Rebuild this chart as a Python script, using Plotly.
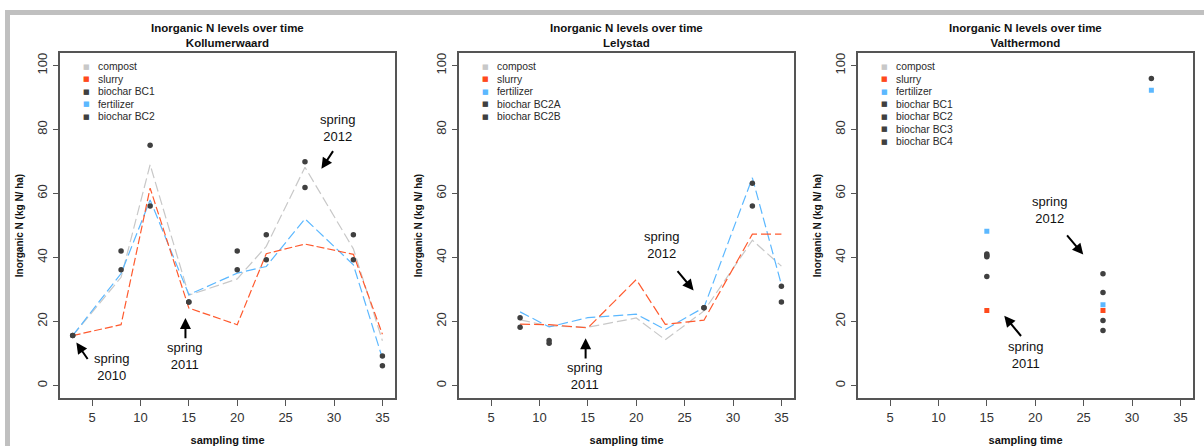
import plotly.graph_objects as go

# ---------------- data ----------------
sites = ["Kollumerwaard", "Lelystad", "Valthermond"]

times_k = [3, 8, 11, 15, 20, 23, 27, 32, 35]
k_compost = [15.6, 33.8, 69.0, 28.2, 33.3, 43.5, 68.2, 42.7, 14.0]
k_slurry = [15.6, 19.0, 61.7, 24.2, 19.0, 41.2, 44.2, 41.0, 16.0]
k_fertilizer = [15.6, 35.0, 58.0, 28.4, 35.1, 37.2, 52.1, 37.7, 8.5]
k_bc1 = [15.6, 42.0, 75.1, 26.1, 42.0, 47.1, 69.9, 47.1, 9.2]
k_bc2 = [15.6, 36.2, 56.1, 26.1, 36.2, 39.3, 61.9, 39.3, 6.2]

times_l = [8, 11, 15, 20, 23, 27, 32, 35]
l_compost = [20.5, 18.6, 18.2, 21.1, 14.3, 23.3, 45.4, 37.3]
l_slurry = [19.2, 19.0, 18.0, 33.1, 19.1, 20.4, 47.3, 47.3]
l_fertilizer = [23.0, 18.3, 21.2, 22.3, 17.5, 24.4, 64.9, 31.5]
l_bc2a = [21.2, 14.1, None, None, None, 24.3, 63.2, 31.0]
l_bc2b = [18.2, 13.2, None, None, None, 24.3, 56.1, 26.1]

times_v = [15, 27, 32]
v_compost = [None, None, None]
v_slurry = [23.4, 23.4, None]
v_fertilizer = [48.2, 25.2, 92.3]
v_bc1 = [41.1, 34.9, 95.9]
v_bc2 = [40.6, 29.1, None]
v_bc3 = [40.2, 20.3, None]
v_bc4 = [34.1, 17.2, None]

legend_k = ["compost", "slurry", "biochar BC1", "fertilizer", "biochar BC2"]
legend_l = ["compost", "slurry", "fertilizer", "biochar BC2A", "biochar BC2B"]
legend_v = ["compost", "slurry", "fertilizer", "biochar BC1", "biochar BC2",
            "biochar BC3", "biochar BC4"]

x_ticks = [5, 10, 15, 20, 25, 30, 35]
y_ticks = [0, 20, 40, 60, 80, 100]

# ---------------- styles ----------------
C_COMPOST = "#c8c8c8"
C_SLURRY = "#ff4a1c"
C_SLURRY_LINE = "#ff5a2e"
C_FERT = "#5cb8ff"
C_BC = "#404040"
colors = {"compost": C_COMPOST, "slurry": C_SLURRY, "fertilizer": C_FERT}
FONT = "Liberation Sans, Arial, sans-serif"

W, H = 1204, 446
box_left_px = [60.3, 459.3, 858.3]
box_w_px = 334.5
box_top_px, box_bot_px = 52.7, 398.3
XR = [1.72, 36.28]
YR = [-4, 104]

fig = go.Figure()


def add_line(ax, x, y, color, dash):
    fig.add_trace(go.Scatter(x=x, y=y, mode="lines", xaxis="x" + ax, yaxis="y" + ax,
                             line=dict(color=color, width=1.2, dash=dash),
                             showlegend=False, hoverinfo="skip"))


def add_pts(ax, x, y, color, symbol="circle", size=5.5):
    fig.add_trace(go.Scatter(x=x, y=y, mode="markers", xaxis="x" + ax, yaxis="y" + ax,
                             marker=dict(color=color, symbol=symbol, size=size,
                                         line=dict(width=0)),
                             showlegend=False))


# panel 1
add_line("", times_k, k_compost, C_COMPOST, "10px,4px")
add_line("", times_k, k_fertilizer, C_FERT, "10px,4px")
add_line("", times_k, k_slurry, C_SLURRY_LINE, "8px,3px")
add_pts("", times_k, k_bc1, C_BC)
add_pts("", times_k, k_bc2, C_BC)
# panel 2
add_line("2", times_l, l_compost, C_COMPOST, "10px,4px")
add_line("2", times_l, l_fertilizer, C_FERT, "10px,4px")
add_line("2", times_l, l_slurry, C_SLURRY_LINE, "10px,4px")
add_pts("2", times_l, l_bc2a, C_BC)
add_pts("2", times_l, l_bc2b, C_BC)
# panel 3
add_pts("3", times_v, v_compost, C_COMPOST, "square", 5)
add_pts("3", times_v, v_bc1, C_BC)
add_pts("3", times_v, v_bc2, C_BC)
add_pts("3", times_v, v_bc3, C_BC)
add_pts("3", times_v, v_bc4, C_BC)
add_pts("3", times_v, v_fertilizer, C_FERT, "square", 5)
add_pts("3", times_v, v_slurry, C_SLURRY, "square", 5)

axis_common = dict(showline=True, mirror=True, linecolor="#555555", linewidth=1.5,
                   showgrid=False, zeroline=False, ticks="outside", ticklen=6,
                   tickcolor="#555555", tickwidth=1.2, automargin=False,
                   tickfont=dict(family=FONT, size=13, color="#333333"))

annotations = []
shapes = []
for i, site in enumerate(sites):
    sfx = "" if i == 0 else str(i + 1)
    x0 = box_left_px[i] / W
    x1 = (box_left_px[i] + box_w_px) / W
    y0 = 1 - box_bot_px / H
    y1 = 1 - box_top_px / H
    fig.layout["xaxis" + sfx] = dict(axis_common, domain=[x0, x1], range=XR,
                                     tickvals=x_ticks, anchor="y" + sfx,
                                     title=dict(text="<b>sampling time</b>", standoff=14,
                                                font=dict(family=FONT, size=11, color="#111")))
    fig.layout["yaxis" + sfx] = dict(axis_common, domain=[y0, y1], range=YR,
                                     tickvals=y_ticks, tickangle=-90, anchor="x" + sfx,
                                     title=dict(text="<b>Inorganic N (kg N/ ha)</b>", standoff=10,
                                                font=dict(family=FONT, size=10, color="#111")))
    cx = (box_left_px[i] + box_w_px / 2) / W
    annotations.append(dict(xref="paper", yref="paper", x=cx, y=1 - 35 / H,
                            text="<b>Inorganic N levels over time</b><br><b>" + site + "</b>",
                            showarrow=False, xanchor="center", yanchor="middle",
                            font=dict(family=FONT, size=11.5, color="#111")))
    # legend (drawn as text, like R's legend with pch=15)
    items = [legend_k, legend_l, legend_v][i]
    for j, lab in enumerate(items):
        col = colors.get(lab, C_BC)
        ypx = 66.7 + j * 12.5
        annotations.append(dict(xref="paper", yref="paper",
                                x=(box_left_px[i] + 25.7) / W, y=1 - ypx / H,
                                text="■", showarrow=False, xanchor="center", yanchor="middle",
                                font=dict(family="DejaVu Sans", size=7, color=col)))
        annotations.append(dict(xref="paper", yref="paper",
                                x=(box_left_px[i] + 35.5) / W, y=1 - ypx / H,
                                text=lab, showarrow=False, xanchor="left", yanchor="middle",
                                font=dict(family=FONT, size=10.3, color="#2a2a2a")))


def arrow(ax, hx, hy, tx, ty):
    annotations.append(dict(xref="x" + ax, yref="y" + ax, axref="x" + ax, ayref="y" + ax,
                            x=hx, y=hy, ax=tx, ay=ty, text="", showarrow=True,
                            arrowhead=2, arrowsize=1.1, arrowwidth=2, arrowcolor="#000"))


def label(ax, x, y, txt):
    annotations.append(dict(xref="x" + ax, yref="y" + ax, x=x, y=y, text=txt,
                            showarrow=False, xanchor="center", yanchor="middle",
                            font=dict(family=FONT, size=13, color="#111")))


# panel 1 annotations
arrow("", 3.38, 13.4, 4.65, 7.8)
label("", 7.0, 5.9, "spring<br>2010")
arrow("", 14.65, 21.1, 14.65, 14.3)
label("", 14.55, 9.3, "spring<br>2011")
arrow("", 28.7, 67.7, 30.0, 73.7)
label("", 30.4, 80.4, "spring<br>2012")
# panel 2
arrow("2", 14.77, 14.8, 14.77, 8.0)
label("2", 14.67, 3.0, "spring<br>2011")
arrow("2", 25.93, 29.7, 24.14, 36.2)
label("2", 22.56, 43.9, "spring<br>2012")
# panel 3
arrow("3", 24.96, 40.9, 23.16, 47.4)
label("3", 21.51, 54.8, "spring<br>2012")
arrow("3", 16.8, 21.8, 18.66, 15.0)
label("3", 19.0, 9.45, "spring<br>2011")

# grey screenshot frame
shapes.append(dict(type="rect", xref="paper", yref="paper", x0=5 / W, x1=1,
                   y0=1 - 15 / H, y1=1 - 10 / H, fillcolor="#c0c0c0", line=dict(width=0),
                   layer="below"))
shapes.append(dict(type="rect", xref="paper", yref="paper", x0=5 / W, x1=10 / W,
                   y0=0, y1=1 - 10 / H, fillcolor="#c0c0c0", line=dict(width=0),
                   layer="below"))

fig.update_layout(width=W, height=H, margin=dict(l=0, r=0, t=0, b=0),
                  paper_bgcolor="white", plot_bgcolor="white",
                  annotations=annotations, shapes=shapes, showlegend=False)

fig.write_html("out.html")
